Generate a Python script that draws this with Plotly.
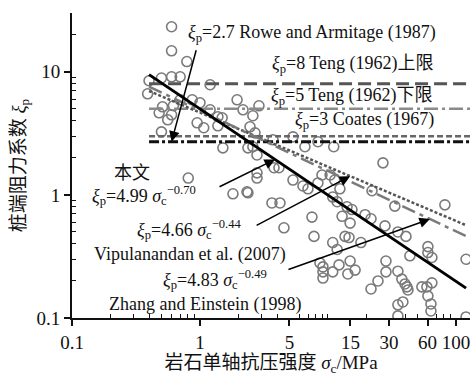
import numpy as np
import plotly.graph_objects as go

# measured data (sigma_c in MPa, xi_p)
sigma_c = [0.60, 0.60, 0.79, 0.40, 0.50, 0.60, 0.70, 1.20, 0.39, 0.51, 0.48, 0.70, 0.87, 1.0,
           0.56, 0.60, 0.95, 1.07, 1.20, 1.38, 1.49, 1.38, 0.50, 1.51, 2.37, 0.81, 1.81, 2.33,
           1.95, 2.17, 2.59, 2.89, 2.46, 2.69, 2.59, 2.79, 3.72, 5.33, 6.61, 8.35, 11.1, 26.9,
           3.79, 4.14, 5.33, 6.38, 6.98, 8.35, 8.98, 10.4, 11.3, 12.4, 10.9, 11.8, 14.1, 15.4,
           2.79, 2.79, 2.37, 3.65, 4.22, 7.50, 12.9, 14.9, 4.53, 7.78, 13.6, 22.1, 33.3, 82.0,
           19.5, 21.7, 27.9, 35.2, 40.7, 10.9, 11.8, 14.6, 18.1, 60.4, 60.4, 64.9, 43.7, 120,
           8.66, 9.14, 9.14, 9.14, 10.9, 12.2, 14.9, 16.3, 14.3, 28.4, 28.4, 35.2, 37.8, 40.0,
           41.4, 42.2, 24.6, 21.7, 54.2, 59.3, 64.9, 60.4, 63.8, 63.8, 35.2, 38.5, 35.2, 120,
           0.62]
xi_p = [23.2, 14.8, 12.1, 8.45, 8.9, 9.1, 9.1, 7.84, 6.62, 5.19, 4.64, 5.92, 5.92, 5.60,
        4.07, 4.47, 3.85, 3.51, 4.91, 4.31, 4.23, 3.64, 3.25, 2.41, 2.41, 1.37, 1.02, 1.06,
        5.92, 4.91, 4.39, 5.29, 3.57, 3.19, 2.46, 2.11, 2.80, 2.96, 2.46, 2.70, 2.46, 1.82,
        1.66, 1.66, 1.32, 1.18, 1.12, 1.25, 1.45, 1.45, 1.32, 1.12, 0.96, 0.88, 0.80, 0.76,
        1.51, 1.37, 1.04, 0.86, 0.86, 0.66, 0.67, 0.59, 0.54, 0.46, 0.46, 1.08, 0.81, 0.83,
        0.69, 0.64, 0.56, 0.50, 0.46, 0.41, 0.36, 0.45, 0.41, 0.38, 0.34, 0.31, 0.32, 0.30,
        0.28, 0.26, 0.237, 0.211, 0.237, 0.27, 0.29, 0.245, 0.228, 0.29, 0.237, 0.24, 0.207, 0.189,
        0.179, 0.169, 0.20, 0.172, 0.179, 0.179, 0.193, 0.151, 0.130, 0.114, 0.128, 0.135, 0.104, 0.102,
        5.3]

# fitted relations xi = a * sigma^b
fit_names = ["本文", "Vipulanandan et al. (2007)", "Zhang and Einstein (1998)"]
fit_a = [4.99, 4.66, 4.83]
fit_b = [-0.70, -0.44, -0.49]
fit_range = [0.4, 120]

# constant values
const_names = ["Teng (1962)上限", "Teng (1962)下限", "Coates (1967)", "Rowe and Armitage (1987)"]
const_vals = [8, 5, 3, 2.7]
const_range = [0.4, 140]

x_ticks = [0.1, 1, 5, 15, 30, 60, 100]
y_ticks = [0.1, 1, 10]
x_minor = [0.2, 0.3, 0.4, 0.5, 0.6, 0.7, 0.8, 0.9, 2, 3, 4, 6, 7, 8, 9, 10, 20, 40, 50, 70, 80, 90]
y_minor = [0.2, 0.3, 0.4, 0.5, 0.6, 0.7, 0.8, 0.9, 2, 3, 4, 5, 6, 7, 8, 9, 20]

SERIF = "Liberation Serif, Noto Sans CJK SC"

fig = go.Figure()
fig.add_trace(go.Scatter(x=sigma_c, y=xi_p, mode="markers",
                         marker=dict(symbol="circle-open", size=10, color="#7a7a7a",
                                     line=dict(width=1.6, color="#7a7a7a")),
                         showlegend=False, cliponaxis=True))

const_styles = [dict(color="#555555", width=3, dash="13px,6px"),
                dict(color="#8a8a8a", width=2.5, dash="14px,4px,3px,4px"),
                dict(color="#666666", width=2.5, dash="6px,3px"),
                dict(color="#111111", width=2.8, dash="10px,3px,3px,3px")]
for v, st in zip(const_vals, const_styles):
    fig.add_trace(go.Scatter(x=const_range, y=[v, v], mode="lines", line=st, showlegend=False))

fit_styles = [dict(color="#000000", width=3),
              dict(color="#555555", width=2.5, dash="3px,2px"),
              dict(color="#7a7a7a", width=2.5, dash="14px,5px,4px,5px")]
xs = np.array(fit_range, dtype=float)
fit_traces = []
for a, b, st in zip(fit_a, fit_b, fit_styles):
    fit_traces.append(go.Scatter(x=xs, y=a * xs ** b, mode="lines", line=st, showlegend=False))
# solid line drawn last, on top
for tr in fit_traces[1:] + fit_traces[:1]:
    fig.add_trace(tr)

def xi(a, b, s):
    return a * s ** b

font = dict(family=SERIF, size=18, color="#111111")
texts = [
    ("<i>ξ</i><sub>p</sub>=2.7 Rowe and Armitage (1987)", 0.603, 0.934),
    ("<i>ξ</i><sub>p</sub>=8 Teng (1962)上限", 0.706, 0.830),
    ("<i>ξ</i><sub>p</sub>=5 Teng (1962)下限", 0.704, 0.725),
    ("<i>ξ</i><sub>p</sub>=3 Coates (1967)", 0.736, 0.646),
    ("本文", 0.151, 0.475),
    ("<i>ξ</i><sub>p</sub>=4.99 <i>σ</i><sub>c</sub><sup>−0.70</sup>", 0.181, 0.403),
    ("<i>ξ</i><sub>p</sub>=4.66 <i>σ</i><sub>c</sub><sup>−0.44</sup>", 0.294, 0.289),
    ("Vipulanandan et al. (2007)", 0.296, 0.207),
    ("<i>ξ</i><sub>p</sub>=4.83 <i>σ</i><sub>c</sub><sup>−0.49</sup>", 0.359, 0.125),
    ("Zhang and Einstein (1998)", 0.334, 0.043),
]
for t, px, py in texts:
    fig.add_annotation(text=t, x=px, y=py, xref="paper", yref="paper", showarrow=False,
                       xanchor="center", yanchor="middle", font=font)

arrow = dict(showarrow=True, arrowhead=2, arrowsize=1.4, arrowwidth=1.5, arrowcolor="#000",
             text="", xref="x", yref="y", axref="pixel", ayref="pixel")
s_r = 0.60
fig.add_annotation(x=np.log10(s_r), y=np.log10(const_vals[3]), ax=25, ay=-93, **arrow)
s1 = 3.86
fig.add_annotation(x=np.log10(s1), y=np.log10(xi(fit_a[0], fit_b[0], s1)), ax=-57, ay=28, **arrow)
s2 = 14.9
fig.add_annotation(x=np.log10(s2), y=np.log10(xi(fit_a[1], fit_b[1], s2)), ax=-95, ay=50, **arrow)
s3 = 62.7
fig.add_annotation(x=np.log10(s3), y=np.log10(xi(fit_a[2], fit_b[2], s3)), ax=-143, ay=51, **arrow)

tickfont = dict(family=SERIF, size=19, color="#111111")
fig.update_xaxes(type="log", range=[-1, 2.11], tickmode="array", tickvals=x_ticks,
                 ticktext=[str(v) for v in x_ticks], ticks="outside", ticklen=6, tickwidth=1.5,
                 tickcolor="#111", showline=True, linecolor="#111", linewidth=2, showgrid=False,
                 zeroline=False, tickfont=tickfont,
                 minor=dict(tickmode="array", tickvals=x_minor, ticks="inside", ticklen=4,
                            tickwidth=1.2, tickcolor="#111", showgrid=False),
                 title=dict(text="岩石单轴抗压强度 <i>σ</i><sub>c</sub>/MPa",
                            font=dict(family=SERIF, size=19, color="#111"), standoff=6))
fig.update_yaxes(type="log", range=[-1, np.log10(30)], tickmode="array", tickvals=y_ticks,
                 ticktext=[str(v) for v in y_ticks], ticks="outside", ticklen=6, tickwidth=1.5,
                 tickcolor="#111", showline=True, linecolor="#111", linewidth=2, showgrid=False,
                 zeroline=False, tickfont=tickfont,
                 minor=dict(tickmode="array", tickvals=y_minor, ticks="inside", ticklen=4,
                            tickwidth=1.2, tickcolor="#111", showgrid=False),
                 title=dict(text="桩端阻力系数 <i>ξ</i><sub>p</sub>",
                            font=dict(family=SERIF, size=19, color="#111"), standoff=6))
fig.update_layout(width=473, height=376, margin=dict(l=72, r=3, t=13, b=58),
                  plot_bgcolor="white", paper_bgcolor="white", showlegend=False)
fig.write_html("out.html")
